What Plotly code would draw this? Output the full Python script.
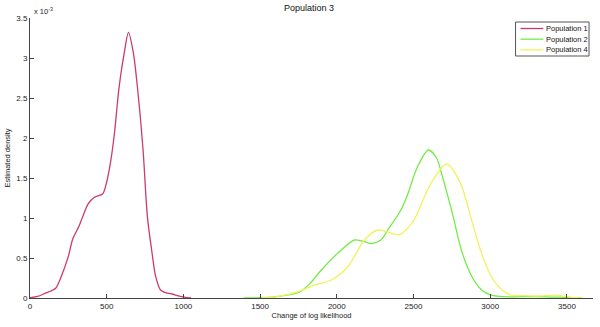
import plotly.graph_objects as go

# Kernel density estimates of the change of log likelihood (density in units of 1e-3)
pop1_x = [0, 50, 100, 150, 169, 200, 250, 279, 320, 344, 380, 420, 473, 500, 527,
          550, 581, 614, 642, 674, 700, 737, 765, 793, 819, 851, 895, 927, 960, 1005, 1050]
pop1_y = [0.005, 0.02, 0.06, 0.10, 0.125, 0.25, 0.52, 0.74, 0.90, 1.02, 1.18, 1.26, 1.30, 1.45, 1.72,
          2.05, 2.64, 3.06, 3.32, 3.06, 2.64, 1.85, 1.02, 0.60, 0.27, 0.10, 0.06, 0.05, 0.03, 0.012, 0.0]

pop2_x = [1392, 1510, 1620, 1748, 1820, 1899, 2029, 2115, 2170, 2223, 2288, 2332, 2418, 2461,
          2526, 2597, 2650, 2688, 2753, 2818, 2893, 2950, 3001, 3087, 3200, 3304, 3400, 3498, 3600]
pop2_y = [0.0, 0.004, 0.02, 0.066, 0.17, 0.35, 0.60, 0.725, 0.71, 0.68, 0.725, 0.85, 1.10, 1.29,
          1.64, 1.85, 1.75, 1.52, 1.06, 0.56, 0.225, 0.09, 0.04, 0.016, 0.016, 0.016, 0.012, 0.008, 0.0]

pop4_x = [1510, 1620, 1748, 1856, 1964, 2072, 2180, 2267, 2353, 2407, 2450, 2504, 2612, 2716,
          2807, 2872, 2936, 3001, 3055, 3131, 3220, 3304, 3434, 3520, 3600]
pop4_y = [0.0, 0.02, 0.08, 0.16, 0.225, 0.39, 0.725, 0.85, 0.81, 0.79, 0.85, 0.975, 1.43, 1.675,
          1.43, 1.02, 0.60, 0.29, 0.14, 0.04, 0.03, 0.025, 0.035, 0.01, 0.0]

names = ["Population 1", "Population 2", "Population 4"]
colors = ["#CC3A6E", "#74EC48", "#F2F25A"]
series = [(pop1_x, pop1_y), (pop2_x, pop2_y), (pop4_x, pop4_y)]

x_ticks = [0, 500, 1000, 1500, 2000, 2500, 3000, 3500]
y_ticks = [0, 0.5, 1, 1.5, 2, 2.5, 3, 3.5]

FONT = "Liberation Sans, Arial, sans-serif"
L, R, T, B, W, H = 26, 7, 18, 29, 600, 327
PW, PH = W - L - R, H - T - B

fig = go.Figure()
for (xs, ys), name, col in zip(series, names, colors):
    fig.add_trace(go.Scatter(x=xs, y=ys, mode="lines", name=name,
                             line=dict(color=col, width=1.3, shape="spline", smoothing=0.8),
                             showlegend=False))


def px_x(p):
    return (p - L) / PW


def px_y(p):
    return (H - B - p) / PH


# legend box drawn in paper coordinates
shapes = [dict(type="rect", xref="paper", yref="paper",
               x0=px_x(515), x1=px_x(589), y0=px_y(56), y1=px_y(22),
               line=dict(color="#555555", width=1), fillcolor="white")]
annotations = []
for i, (name, col) in enumerate(zip(names, colors)):
    yy = px_y(28.5 + 10.7 * i)
    shapes.append(dict(type="line", xref="paper", yref="paper",
                       x0=px_x(520), x1=px_x(543), y0=yy, y1=yy,
                       line=dict(color=col, width=1.3)))
    annotations.append(dict(xref="paper", yref="paper", x=px_x(543.5), y=yy,
                            text=name, showarrow=False, xanchor="left", yanchor="middle",
                            font=dict(family=FONT, size=7.5, color="#111111")))

annotations.append(dict(xref="paper", yref="paper", x=px_x(28), y=px_y(11),
                        text="x 10<sup>-3</sup>", showarrow=False,
                        xanchor="left", yanchor="middle",
                        font=dict(family=FONT, size=7.5, color="#222222")))

fig.update_layout(
    width=W, height=H,
    margin=dict(l=L, r=R, t=T, b=B),
    paper_bgcolor="white", plot_bgcolor="white",
    title=dict(text="Population 3", x=0.515, xanchor="center", y=1 - 8 / H, yanchor="middle",
               font=dict(family=FONT, size=9, color="#111111")),
    xaxis=dict(range=[0, 3670], tickvals=x_ticks, ticktext=[str(v) for v in x_ticks],
               ticks="inside", ticklen=4, tickcolor="#444444", showline=True,
               linecolor="#444444", linewidth=1, showgrid=False, zeroline=False,
               tickfont=dict(family=FONT, size=8, color="#222222"),
               title=dict(text="Change of log likelihood", standoff=2,
                          font=dict(family=FONT, size=7.5, color="#222222"))),
    yaxis=dict(range=[0, 3.5], tickvals=y_ticks, ticktext=[f"{v:g}" for v in y_ticks],
               ticks="inside", ticklen=4, tickcolor="#444444", showline=True,
               linecolor="#444444", linewidth=1, showgrid=False, zeroline=False,
               tickfont=dict(family=FONT, size=8, color="#222222"),
               title=dict(text="Estimated density", standoff=4,
                          font=dict(family=FONT, size=7.5, color="#222222"))),
    shapes=shapes,
    annotations=annotations,
)

fig.write_html("out.html")
